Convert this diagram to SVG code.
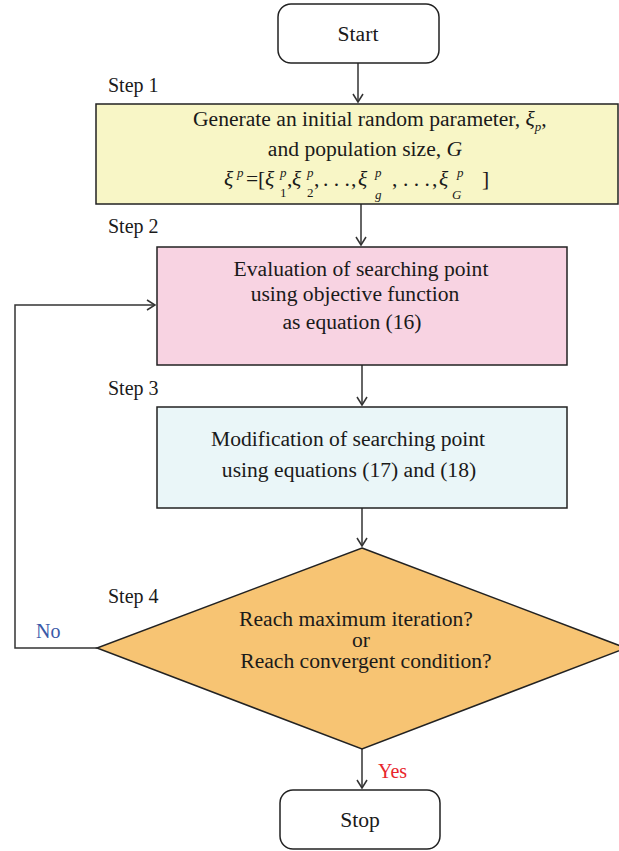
<svg xmlns="http://www.w3.org/2000/svg" width="619" height="851" viewBox="0 0 619 851">
<defs>
<style>
text{font-family:"Liberation Serif","Times New Roman",serif;font-size:21.6px;fill:#1a1a1a}
.lbl{font-size:20px}
.m{text-anchor:middle}
.it{font-style:italic}
.s{font-size:13px;font-style:italic}
.sn{font-size:13px}
.node{stroke:#222;stroke-width:1.5}
.edge{fill:none;stroke:#333;stroke-width:1.5}
</style>
<marker id="arr" markerWidth="12" markerHeight="12" refX="10" refY="6" orient="auto" markerUnits="userSpaceOnUse">
<path d="M2,1 L10,6 L2,11" fill="none" stroke="#333" stroke-width="1.5"/>
</marker>
</defs>
<rect width="619" height="851" fill="#ffffff"/>

<g id="connectors">
<line class="edge" x1="358" y1="63" x2="358" y2="102" marker-end="url(#arr)"/>
<line class="edge" x1="361" y1="204" x2="361" y2="245" marker-end="url(#arr)"/>
<line class="edge" x1="362" y1="365" x2="362" y2="405" marker-end="url(#arr)"/>
<line class="edge" x1="362" y1="508" x2="362" y2="546" marker-end="url(#arr)"/>
<line class="edge" x1="362" y1="749" x2="362" y2="788" marker-end="url(#arr)"/>
<polyline class="edge" points="97,648 15,648 15,305 155,305" marker-end="url(#arr)"/>
<text x="36" y="638" style="fill:#3a5aa8" class="lbl">No</text>
<text x="378" y="778" style="fill:#e8262d" class="lbl">Yes</text>
</g>

<g id="start">
<rect class="node" x="278" y="4" width="161" height="59" rx="13" fill="#ffffff"/>
<text class="m" x="358" y="41">Start</text>
</g>

<text class="lbl" x="108" y="92">Step 1</text>
<g id="step1">
<rect class="node" x="96" y="104" width="522" height="100" fill="#f8f6c6"/>
<text x="193" y="126">Generate an initial random parameter, <tspan class="it">ξ</tspan><tspan class="s" dy="5">p</tspan><tspan dy="-5">,</tspan></text>
<text class="m" x="365" y="156">and population size, <tspan class="it">G</tspan></text>
<text class="it" x="224" y="186">ξ</text>
<text class="s" x="237" y="177">p</text>
<text x="246" y="186">=</text>
<text x="258" y="186">[</text>
<text class="it" x="265" y="186">ξ</text>
<text class="s" x="280" y="177">p</text>
<text class="sn" x="280" y="197">1</text>
<text x="287" y="186">,</text>
<text class="it" x="292" y="186">ξ</text>
<text class="s" x="307" y="177">p</text>
<text class="sn" x="307" y="197">2</text>
<text x="314" y="186">,</text>
<text x="323" y="186">. . .</text>
<text x="351" y="186">,</text>
<text class="it" x="358" y="186">ξ</text>
<text class="s" x="375" y="177">p</text>
<text class="s" x="375" y="199">g</text>
<text x="392" y="186">,</text>
<text x="403" y="186">. . .</text>
<text x="432" y="186">,</text>
<text class="it" x="439" y="186">ξ</text>
<text class="s" x="457" y="177">p</text>
<text class="sn" x="452" y="199" style="font-style:italic">G</text>
<text x="482" y="186">]</text>
</g>

<text class="lbl" x="108" y="233">Step 2</text>
<g id="step2">
<rect class="node" x="157" y="247" width="410" height="118" fill="#f8d3e2"/>
<text class="m" x="361" y="276">Evaluation of searching point</text>
<text class="m" x="355" y="301">using objective function</text>
<text class="m" x="352" y="329">as equation (16)</text>
</g>

<text class="lbl" x="108" y="395">Step 3</text>
<g id="step3">
<rect class="node" x="157" y="407" width="410" height="101" fill="#eaf6f8"/>
<text class="m" x="348" y="446">Modification of searching point</text>
<text class="m" x="349" y="477">using equations (17) and (18)</text>
</g>

<text class="lbl" x="108" y="603">Step 4</text>
<g id="step4">
<polygon class="node" points="362,548 626,648 362,749 97,648" fill="#f7c473"/>
<text class="m" x="356" y="626">Reach maximum iteration?</text>
<text class="m" x="361" y="647">or</text>
<text class="m" x="366" y="668">Reach convergent condition?</text>
</g>

<g id="stop">
<rect class="node" x="280" y="790" width="160" height="59" rx="13" fill="#ffffff"/>
<text class="m" x="360" y="827">Stop</text>
</g>
</svg>
